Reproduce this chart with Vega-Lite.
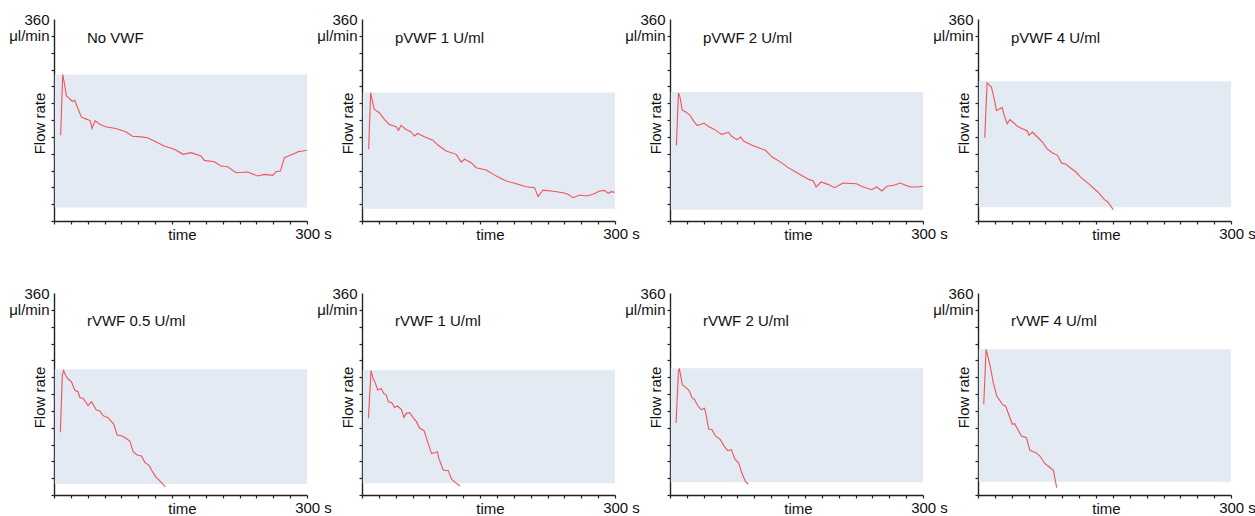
{
  "$schema": "https://vega.github.io/schema/vega-lite/v6.json",
  "background": "white",
  "padding": {"left": 8, "top": 12, "right": 5, "bottom": 5},
  "data": {"values": [
    {"panel":"No VWF","lo":24,"hi":261},
    {"panel":"pVWF 1 U/ml","lo":22,"hi":229},
    {"panel":"pVWF 2 U/ml","lo":20,"hi":230},
    {"panel":"pVWF 4 U/ml","lo":24.4,"hi":249},
    {"panel":"rVWF 0.5 U/ml","lo":19.6,"hi":224},
    {"panel":"rVWF 1 U/ml","lo":20.8,"hi":222.8},
    {"panel":"rVWF 2 U/ml","lo":22.6,"hi":225.7},
    {"panel":"rVWF 4 U/ml","lo":23.8,"hi":259.6},
    {"panel":"No VWF","t":7.9,"flow":152.7},{"panel":"No VWF","t":10.3,"flow":261},{"panel":"No VWF","t":11.9,"flow":249},{"panel":"No VWF","t":14.7,"flow":223},{"panel":"No VWF","t":17.8,"flow":219},{"panel":"No VWF","t":21.8,"flow":213},{"panel":"No VWF","t":24.6,"flow":215},{"panel":"No VWF","t":27.7,"flow":203},{"panel":"No VWF","t":32.5,"flow":185},{"panel":"No VWF","t":37.6,"flow":182},{"panel":"No VWF","t":42.8,"flow":179},{"panel":"No VWF","t":45.1,"flow":165},{"panel":"No VWF","t":48.7,"flow":179},{"panel":"No VWF","t":54.6,"flow":172},{"panel":"No VWF","t":62.6,"flow":167.5},{"panel":"No VWF","t":73.3,"flow":165},{"panel":"No VWF","t":85.1,"flow":159},{"panel":"No VWF","t":93.1,"flow":151},{"panel":"No VWF","t":103,"flow":150},{"panel":"No VWF","t":110.9,"flow":148.5},{"panel":"No VWF","t":118.8,"flow":142.6},{"panel":"No VWF","t":130.7,"flow":133.7},{"panel":"No VWF","t":142.6,"flow":127.7},{"panel":"No VWF","t":153.2,"flow":118.8},{"panel":"No VWF","t":162.4,"flow":121.8},{"panel":"No VWF","t":174.2,"flow":115.8},{"panel":"No VWF","t":178.2,"flow":108},{"panel":"No VWF","t":190,"flow":105.7},{"panel":"No VWF","t":198,"flow":98},{"panel":"No VWF","t":206,"flow":96.8},{"panel":"No VWF","t":216,"flow":86},{"panel":"No VWF","t":229.7,"flow":87.3},{"panel":"No VWF","t":241.6,"flow":80.2},{"panel":"No VWF","t":249.5,"flow":83},{"panel":"No VWF","t":259.4,"flow":81.4},{"panel":"No VWF","t":263.3,"flow":87.9},{"panel":"No VWF","t":268.5,"flow":89},{"panel":"No VWF","t":273.2,"flow":112.9},{"panel":"No VWF","t":278,"flow":115.8},{"panel":"No VWF","t":284.3,"flow":120},{"panel":"No VWF","t":289.9,"flow":123.6},{"panel":"No VWF","t":295,"flow":124.7},{"panel":"No VWF","t":299.8,"flow":126},
    {"panel":"pVWF 1 U/ml","t":7.9,"flow":127.7},{"panel":"pVWF 1 U/ml","t":10.3,"flow":228.7},{"panel":"pVWF 1 U/ml","t":11.9,"flow":216.8},{"panel":"pVWF 1 U/ml","t":14.6,"flow":199},{"panel":"pVWF 1 U/ml","t":20.6,"flow":193},{"panel":"pVWF 1 U/ml","t":26.5,"flow":181},{"panel":"pVWF 1 U/ml","t":32.5,"flow":172},{"panel":"pVWF 1 U/ml","t":40.4,"flow":168},{"panel":"pVWF 1 U/ml","t":43.2,"flow":161.6},{"panel":"pVWF 1 U/ml","t":46.3,"flow":170.5},{"panel":"pVWF 1 U/ml","t":52.3,"flow":163},{"panel":"pVWF 1 U/ml","t":58.2,"flow":158.6},{"panel":"pVWF 1 U/ml","t":62.2,"flow":151.5},{"panel":"pVWF 1 U/ml","t":66.1,"flow":156},{"panel":"pVWF 1 U/ml","t":74,"flow":150},{"panel":"pVWF 1 U/ml","t":84,"flow":144},{"panel":"pVWF 1 U/ml","t":89.9,"flow":135.4},{"panel":"pVWF 1 U/ml","t":99.8,"flow":124.7},{"panel":"pVWF 1 U/ml","t":111.7,"flow":118.8},{"panel":"pVWF 1 U/ml","t":117.6,"flow":105},{"panel":"pVWF 1 U/ml","t":121.6,"flow":110},{"panel":"pVWF 1 U/ml","t":129.5,"flow":104},{"panel":"pVWF 1 U/ml","t":135.4,"flow":95},{"panel":"pVWF 1 U/ml","t":147.3,"flow":90.9},{"panel":"pVWF 1 U/ml","t":159.2,"flow":80},{"panel":"pVWF 1 U/ml","t":171,"flow":71.3},{"panel":"pVWF 1 U/ml","t":183,"flow":66.5},{"panel":"pVWF 1 U/ml","t":194.8,"flow":61},{"panel":"pVWF 1 U/ml","t":204.7,"flow":59.4},{"panel":"pVWF 1 U/ml","t":208.7,"flow":43.4},{"panel":"pVWF 1 U/ml","t":214.6,"flow":55},{"panel":"pVWF 1 U/ml","t":226.5,"flow":52.9},{"panel":"pVWF 1 U/ml","t":238.4,"flow":50.5},{"panel":"pVWF 1 U/ml","t":244.3,"flow":47.5},{"panel":"pVWF 1 U/ml","t":250.3,"flow":41.6},{"panel":"pVWF 1 U/ml","t":258.2,"flow":46.3},{"panel":"pVWF 1 U/ml","t":266.1,"flow":44.6},{"panel":"pVWF 1 U/ml","t":274,"flow":47.5},{"panel":"pVWF 1 U/ml","t":282,"flow":53.5},{"panel":"pVWF 1 U/ml","t":287.9,"flow":54.6},{"panel":"pVWF 1 U/ml","t":291.9,"flow":49.3},{"panel":"pVWF 1 U/ml","t":295.8,"flow":52.3},{"panel":"pVWF 1 U/ml","t":299.5,"flow":51},
    {"panel":"pVWF 2 U/ml","t":7.6,"flow":134.8},{"panel":"pVWF 2 U/ml","t":10,"flow":228},{"panel":"pVWF 2 U/ml","t":12,"flow":220},{"panel":"pVWF 2 U/ml","t":14.4,"flow":198},{"panel":"pVWF 2 U/ml","t":19.2,"flow":194},{"panel":"pVWF 2 U/ml","t":24,"flow":188},{"panel":"pVWF 2 U/ml","t":28,"flow":178},{"panel":"pVWF 2 U/ml","t":32,"flow":170.5},{"panel":"pVWF 2 U/ml","t":36.4,"flow":172},{"panel":"pVWF 2 U/ml","t":40.4,"flow":174.6},{"panel":"pVWF 2 U/ml","t":45.2,"flow":168.7},{"panel":"pVWF 2 U/ml","t":53.2,"flow":162.8},{"panel":"pVWF 2 U/ml","t":61.2,"flow":154.4},{"panel":"pVWF 2 U/ml","t":69.2,"flow":158},{"panel":"pVWF 2 U/ml","t":73.2,"flow":151},{"panel":"pVWF 2 U/ml","t":79.2,"flow":145},{"panel":"pVWF 2 U/ml","t":84,"flow":149.7},{"panel":"pVWF 2 U/ml","t":87.2,"flow":142.6},{"panel":"pVWF 2 U/ml","t":97.2,"flow":134.8},{"panel":"pVWF 2 U/ml","t":105.2,"flow":130.7},{"panel":"pVWF 2 U/ml","t":113.2,"flow":126},{"panel":"pVWF 2 U/ml","t":121.2,"flow":114},{"panel":"pVWF 2 U/ml","t":131.2,"flow":105},{"panel":"pVWF 2 U/ml","t":139.2,"flow":96},{"panel":"pVWF 2 U/ml","t":149.2,"flow":87.3},{"panel":"pVWF 2 U/ml","t":157.2,"flow":80.2},{"panel":"pVWF 2 U/ml","t":165.2,"flow":73.7},{"panel":"pVWF 2 U/ml","t":170,"flow":71.3},{"panel":"pVWF 2 U/ml","t":173.2,"flow":60.6},{"panel":"pVWF 2 U/ml","t":179.2,"flow":69.5},{"panel":"pVWF 2 U/ml","t":187.2,"flow":65.3},{"panel":"pVWF 2 U/ml","t":195.2,"flow":59.4},{"panel":"pVWF 2 U/ml","t":205.2,"flow":67.7},{"panel":"pVWF 2 U/ml","t":221.2,"flow":66.5},{"panel":"pVWF 2 U/ml","t":229.2,"flow":60.6},{"panel":"pVWF 2 U/ml","t":239.2,"flow":55.8},{"panel":"pVWF 2 U/ml","t":245.2,"flow":60.6},{"panel":"pVWF 2 U/ml","t":251.2,"flow":53.5},{"panel":"pVWF 2 U/ml","t":257.2,"flow":61.8},{"panel":"pVWF 2 U/ml","t":265.2,"flow":63.6},{"panel":"pVWF 2 U/ml","t":273.2,"flow":67.7},{"panel":"pVWF 2 U/ml","t":279.2,"flow":63.6},{"panel":"pVWF 2 U/ml","t":285.2,"flow":60.6},{"panel":"pVWF 2 U/ml","t":293.2,"flow":60.6},{"panel":"pVWF 2 U/ml","t":300,"flow":61.8},
    {"panel":"pVWF 4 U/ml","t":8,"flow":148.5},{"panel":"pVWF 4 U/ml","t":10.8,"flow":246.5},{"panel":"pVWF 4 U/ml","t":13.9,"flow":241.8},{"panel":"pVWF 4 U/ml","t":15.9,"flow":238.8},{"panel":"pVWF 4 U/ml","t":18.7,"flow":221},{"panel":"pVWF 4 U/ml","t":21.9,"flow":197},{"panel":"pVWF 4 U/ml","t":25.9,"flow":200},{"panel":"pVWF 4 U/ml","t":28.7,"flow":202},{"panel":"pVWF 4 U/ml","t":31.4,"flow":186.5},{"panel":"pVWF 4 U/ml","t":34.6,"flow":173.4},{"panel":"pVWF 4 U/ml","t":37.8,"flow":180.6},{"panel":"pVWF 4 U/ml","t":42.6,"flow":174.6},{"panel":"pVWF 4 U/ml","t":46.6,"flow":168.7},{"panel":"pVWF 4 U/ml","t":52.5,"flow":164.5},{"panel":"pVWF 4 U/ml","t":58.5,"flow":160.4},{"panel":"pVWF 4 U/ml","t":60.5,"flow":152.7},{"panel":"pVWF 4 U/ml","t":64.5,"flow":158.6},{"panel":"pVWF 4 U/ml","t":70.4,"flow":149.7},{"panel":"pVWF 4 U/ml","t":76.4,"flow":140.8},{"panel":"pVWF 4 U/ml","t":81.6,"flow":129},{"panel":"pVWF 4 U/ml","t":88.4,"flow":121.2},{"panel":"pVWF 4 U/ml","t":94.3,"flow":117},{"panel":"pVWF 4 U/ml","t":99.1,"flow":103.4},{"panel":"pVWF 4 U/ml","t":104.3,"flow":101},{"panel":"pVWF 4 U/ml","t":108.3,"flow":96.2},{"panel":"pVWF 4 U/ml","t":116.2,"flow":87.3},{"panel":"pVWF 4 U/ml","t":122.2,"flow":77.2},{"panel":"pVWF 4 U/ml","t":132.1,"flow":65.3},{"panel":"pVWF 4 U/ml","t":142.1,"flow":51.7},{"panel":"pVWF 4 U/ml","t":150,"flow":38},{"panel":"pVWF 4 U/ml","t":154,"flow":33.9},{"panel":"pVWF 4 U/ml","t":160.4,"flow":20.2},
    {"panel":"rVWF 0.5 U/ml","t":7.5,"flow":111.7},{"panel":"rVWF 0.5 U/ml","t":9.9,"flow":213.8},{"panel":"rVWF 0.5 U/ml","t":11.5,"flow":222},{"panel":"rVWF 0.5 U/ml","t":13.5,"flow":213.8},{"panel":"rVWF 0.5 U/ml","t":16.6,"flow":206.7},{"panel":"rVWF 0.5 U/ml","t":20.6,"flow":202},{"panel":"rVWF 0.5 U/ml","t":24.6,"flow":187},{"panel":"rVWF 0.5 U/ml","t":28.5,"flow":184},{"panel":"rVWF 0.5 U/ml","t":30.5,"flow":174},{"panel":"rVWF 0.5 U/ml","t":34.5,"flow":172},{"panel":"rVWF 0.5 U/ml","t":40.4,"flow":159.2},{"panel":"rVWF 0.5 U/ml","t":44.4,"flow":166.3},{"panel":"rVWF 0.5 U/ml","t":50.3,"flow":151.5},{"panel":"rVWF 0.5 U/ml","t":54.3,"flow":149.7},{"panel":"rVWF 0.5 U/ml","t":58.2,"flow":141.4},{"panel":"rVWF 0.5 U/ml","t":64.2,"flow":137.8},{"panel":"rVWF 0.5 U/ml","t":70.9,"flow":126},{"panel":"rVWF 0.5 U/ml","t":74.9,"flow":107},{"panel":"rVWF 0.5 U/ml","t":80,"flow":105.7},{"panel":"rVWF 0.5 U/ml","t":85.1,"flow":101},{"panel":"rVWF 0.5 U/ml","t":89.9,"flow":96.2},{"panel":"rVWF 0.5 U/ml","t":93.9,"flow":77.2},{"panel":"rVWF 0.5 U/ml","t":98.6,"flow":71.3},{"panel":"rVWF 0.5 U/ml","t":103.8,"flow":69.5},{"panel":"rVWF 0.5 U/ml","t":107.7,"flow":58.2},{"panel":"rVWF 0.5 U/ml","t":112.9,"flow":52.3},{"panel":"rVWF 0.5 U/ml","t":115.6,"flow":44.6},{"panel":"rVWF 0.5 U/ml","t":120.4,"flow":32.7},{"panel":"rVWF 0.5 U/ml","t":126.3,"flow":23.8},{"panel":"rVWF 0.5 U/ml","t":131.9,"flow":14.8},
    {"panel":"rVWF 1 U/ml","t":7.6,"flow":136.6},{"panel":"rVWF 1 U/ml","t":10.7,"flow":221.6},{"panel":"rVWF 1 U/ml","t":13.1,"flow":208},{"panel":"rVWF 1 U/ml","t":15.9,"flow":199},{"panel":"rVWF 1 U/ml","t":18.7,"flow":187},{"panel":"rVWF 1 U/ml","t":22.7,"flow":190},{"panel":"rVWF 1 U/ml","t":25.9,"flow":181},{"panel":"rVWF 1 U/ml","t":28.7,"flow":178},{"panel":"rVWF 1 U/ml","t":31.4,"flow":166},{"panel":"rVWF 1 U/ml","t":35.4,"flow":164.5},{"panel":"rVWF 1 U/ml","t":38.6,"flow":156},{"panel":"rVWF 1 U/ml","t":41.8,"flow":158.6},{"panel":"rVWF 1 U/ml","t":46.6,"flow":152.7},{"panel":"rVWF 1 U/ml","t":49.8,"flow":138.4},{"panel":"rVWF 1 U/ml","t":52.5,"flow":145.5},{"panel":"rVWF 1 U/ml","t":56.5,"flow":146.7},{"panel":"rVWF 1 U/ml","t":60.5,"flow":138.4},{"panel":"rVWF 1 U/ml","t":64.5,"flow":130.7},{"panel":"rVWF 1 U/ml","t":68.5,"flow":118.8},{"panel":"rVWF 1 U/ml","t":73.6,"flow":114.6},{"panel":"rVWF 1 U/ml","t":78.4,"flow":92},{"panel":"rVWF 1 U/ml","t":82.4,"flow":74.3},{"panel":"rVWF 1 U/ml","t":86.4,"flow":75.4},{"panel":"rVWF 1 U/ml","t":89.5,"flow":77.2},{"panel":"rVWF 1 U/ml","t":91.1,"flow":65.3},{"panel":"rVWF 1 U/ml","t":96.3,"flow":44.6},{"panel":"rVWF 1 U/ml","t":102.3,"flow":43.4},{"panel":"rVWF 1 U/ml","t":106.3,"flow":27.9},{"panel":"rVWF 1 U/ml","t":112.2,"flow":20.8},{"panel":"rVWF 1 U/ml","t":115.8,"flow":16},
    {"panel":"rVWF 2 U/ml","t":7.2,"flow":128.3},{"panel":"rVWF 2 U/ml","t":10,"flow":221.6},{"panel":"rVWF 2 U/ml","t":11.1,"flow":224.5},{"panel":"rVWF 2 U/ml","t":13.1,"flow":209.7},{"panel":"rVWF 2 U/ml","t":14.7,"flow":196},{"panel":"rVWF 2 U/ml","t":18.7,"flow":191.9},{"panel":"rVWF 2 U/ml","t":22.7,"flow":186},{"panel":"rVWF 2 U/ml","t":25.9,"flow":174},{"panel":"rVWF 2 U/ml","t":29.1,"flow":170},{"panel":"rVWF 2 U/ml","t":33,"flow":159},{"panel":"rVWF 2 U/ml","t":37,"flow":152},{"panel":"rVWF 2 U/ml","t":41,"flow":154.4},{"panel":"rVWF 2 U/ml","t":43,"flow":141.4},{"panel":"rVWF 2 U/ml","t":45.8,"flow":117.6},{"panel":"rVWF 2 U/ml","t":49.8,"flow":116.4},{"panel":"rVWF 2 U/ml","t":53.7,"flow":105.7},{"panel":"rVWF 2 U/ml","t":59.7,"flow":98.6},{"panel":"rVWF 2 U/ml","t":63.7,"flow":88},{"panel":"rVWF 2 U/ml","t":68.5,"flow":79},{"panel":"rVWF 2 U/ml","t":72.8,"flow":80.8},{"panel":"rVWF 2 U/ml","t":76.8,"flow":64.2},{"panel":"rVWF 2 U/ml","t":81.6,"flow":57},{"panel":"rVWF 2 U/ml","t":84.8,"flow":40.4},{"panel":"rVWF 2 U/ml","t":89.6,"flow":23.8},{"panel":"rVWF 2 U/ml","t":92.7,"flow":19.6},
    {"panel":"rVWF 4 U/ml","t":6.8,"flow":161.6},{"panel":"rVWF 4 U/ml","t":9.6,"flow":259.6},{"panel":"rVWF 4 U/ml","t":11.6,"flow":247.7},{"panel":"rVWF 4 U/ml","t":14.4,"flow":229.9},{"panel":"rVWF 4 U/ml","t":18.4,"flow":198.4},{"panel":"rVWF 4 U/ml","t":22.3,"flow":176.4},{"panel":"rVWF 4 U/ml","t":26.3,"flow":167.5},{"panel":"rVWF 4 U/ml","t":29.5,"flow":160.4},{"panel":"rVWF 4 U/ml","t":32.7,"flow":158.6},{"panel":"rVWF 4 U/ml","t":36.7,"flow":142.6},{"panel":"rVWF 4 U/ml","t":40.7,"flow":126},{"panel":"rVWF 4 U/ml","t":43.5,"flow":127},{"panel":"rVWF 4 U/ml","t":46.3,"flow":118.8},{"panel":"rVWF 4 U/ml","t":51.5,"flow":105},{"panel":"rVWF 4 U/ml","t":57.5,"flow":102},{"panel":"rVWF 4 U/ml","t":61.5,"flow":79.6},{"panel":"rVWF 4 U/ml","t":68.6,"flow":75.4},{"panel":"rVWF 4 U/ml","t":73.4,"flow":69.5},{"panel":"rVWF 4 U/ml","t":79.4,"flow":55.8},{"panel":"rVWF 4 U/ml","t":84.6,"flow":49.9},{"panel":"rVWF 4 U/ml","t":89.4,"flow":44},{"panel":"rVWF 4 U/ml","t":93.3,"flow":13}
  ]},
  "facet": {"field": "panel", "type": "nominal", "title": null,
    "header": {"labels": false, "labelExpr": "''", "labelFontSize": 0, "labelPadding": 0, "title": null},
    "sort": ["No VWF","pVWF 1 U/ml","pVWF 2 U/ml","pVWF 4 U/ml","rVWF 0.5 U/ml","rVWF 1 U/ml","rVWF 2 U/ml","rVWF 4 U/ml"]},
  "columns": 4,
  "spacing": {"row": 72, "column": 55},
  "bounds": "flush",
  "resolve": {"axis": {"x": "independent", "y": "independent"}},
  "spec": {
    "width": 253,
    "height": 202,
    "layer": [
      {
        "transform": [{"filter": "isValid(datum.lo)"}],
        "mark": {"type": "rect", "color": "#e3eaf4"},
        "encoding": {
          "x": {"datum": 1, "type": "quantitative", "scale": {"domain": [0, 300], "nice": false, "zero": false},
            "axis": {"title": "time", "values": [0,20,40,60,80,100,120,140,160,180,200,220,240,260,280,300], "tickCount": 40,
              "labelExpr": "datum.value == 300 ? '300 s' : ''", "labelFlush": false, "labelOverlap": false, "labelOffset": 6,
              "labelPadding": 2, "titleX": 128, "titleY": 6, "titleBaseline": "top", "titleAlign": "center"}},
          "x2": {"datum": 300},
          "y": {"field": "lo", "type": "quantitative", "scale": {"domain": [0, 360], "nice": false},
            "axis": {"title": "Flow rate", "values": [0,30,60,90,120,150,180,210,240,270,300,330,360], "tickCount": 40,
              "labelExpr": "datum.value == 360 ? '360\u00a0' : datum.value == 330 ? 'μl/min' : ''",
              "tickOpacity": {"expr": "datum.value == 360 ? 0 : 1"},
              "labelOverlap": false, "labelPadding": 2, "labelBaseline": "middle",
              "titleX": -15, "titleY": 104, "titleAngle": -90, "titleBaseline": "middle", "titleAlign": "center"}},
          "y2": {"field": "hi"}
        }
      },
      {
        "transform": [{"filter": "isValid(datum.flow)"}],
        "mark": {"type": "line", "color": "#f05555", "strokeWidth": 1.1},
        "encoding": {
          "x": {"field": "t", "type": "quantitative", "scale": {"domain": [0, 300], "nice": false, "zero": false},
            "axis": {"title": "time", "values": [0,20,40,60,80,100,120,140,160,180,200,220,240,260,280,300], "tickCount": 40,
              "labelExpr": "datum.value == 300 ? '300 s' : ''", "labelFlush": false, "labelOverlap": false, "labelOffset": 6,
              "labelPadding": 2, "titleX": 128, "titleY": 6, "titleBaseline": "top", "titleAlign": "center"}},
          "y": {"field": "flow", "type": "quantitative", "scale": {"domain": [0, 360], "nice": false},
            "axis": {"title": "Flow rate", "values": [0,30,60,90,120,150,180,210,240,270,300,330,360], "tickCount": 40,
              "labelExpr": "datum.value == 360 ? '360\u00a0' : datum.value == 330 ? 'μl/min' : ''",
              "tickOpacity": {"expr": "datum.value == 360 ? 0 : 1"},
              "labelOverlap": false, "labelPadding": 2, "labelBaseline": "middle",
              "titleX": -15, "titleY": 104, "titleAngle": -90, "titleBaseline": "middle", "titleAlign": "center"}}
        }
      },
      {
        "transform": [{"filter": "isValid(datum.lo) && indexof(datum.panel, 'rVWF') != 0"}],
        "mark": {"type": "text", "align": "left", "baseline": "middle", "fontSize": 15, "font": "Liberation Sans", "color": "#111"},
        "encoding": {
          "x": {"datum": 39, "type": "quantitative"},
          "y": {"datum": 327, "type": "quantitative"},
          "text": {"field": "panel"}
        }
      },
      {
        "transform": [{"filter": "isValid(datum.lo) && indexof(datum.panel, 'rVWF') == 0"}],
        "mark": {"type": "text", "align": "left", "baseline": "middle", "fontSize": 15, "font": "Liberation Sans", "color": "#111"},
        "encoding": {
          "x": {"datum": 39, "type": "quantitative"},
          "y": {"datum": 310, "type": "quantitative"},
          "text": {"field": "panel"}
        }
      }
    ]
  },
  "config": {
    "view": {"stroke": null},
    "header": {"labels": false, "labelFontSize": 0, "labelPadding": 0},
    "headerFacet": {"labels": false, "labelFontSize": 0, "labelPadding": 0},
    "headerColumn": {"labels": false, "labelFontSize": 0, "labelPadding": 0},
    "axis": {"grid": false, "domainColor": "#222", "domainWidth": 1.4, "tickColor": "#222", "tickWidth": 1.2, "tickSize": 3,
      "labelFont": "Liberation Sans", "titleFont": "Liberation Sans", "labelFontSize": 15, "titleFontSize": 15,
      "titleFontWeight": "normal", "labelColor": "#111", "titleColor": "#111"}
  }
}
